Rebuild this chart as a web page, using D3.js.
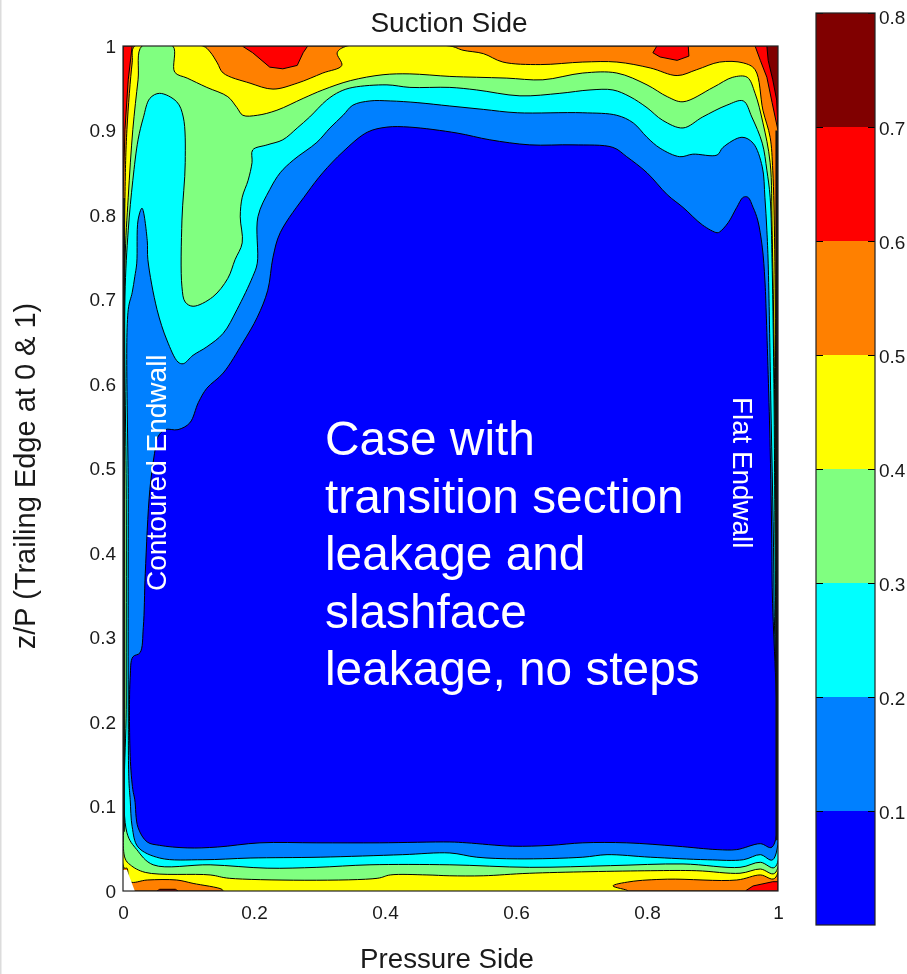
<!doctype html>
<html lang="en">
  <head>
    <meta charset="utf-8">
    <title>Suction Side contour</title>
    <script src="https://d3js.org/d3.v7.min.js"></script>
    <style>
    html, body { margin: 0; padding: 0; background: #fff; }
    svg { display: block; filter: blur(0.45px); }
    text { font-family: "Liberation Sans", Arial, sans-serif; fill: #1a1a1a; }
    .overlay { fill: #fff; }
    .tick line { stroke: #000; }
    .domain { stroke: none; }
    </style>
  </head>

  <body>
    <div id="chart">
      <svg width="907" height="974"></svg>
    </div>

    <script>
      // contour levels and the colour of the band below each one
      var levels = [0.1, 0.2, 0.3, 0.4, 0.5, 0.6, 0.7];
      var bandColors = ['#0000ff', '#0080ff', '#00ffff', '#80ff80', '#ffff00', '#ff8000', '#ff0000', '#800000'];

      var xTicks = [0, 0.2, 0.4, 0.6, 0.8, 1];
      var yTicks = [0, 0.1, 0.2, 0.3, 0.4, 0.5, 0.6, 0.7, 0.8, 0.9, 1];
      var barTicks = [0.1, 0.2, 0.3, 0.4, 0.5, 0.6, 0.7, 0.8];

      var noteLines = ['Case with', 'transition section', 'leakage and', 'slashface', 'leakage, no steps'];

      // outlines of the region under each level, in x/P, z/P
      var below01 = [[.018,.108],[.023,.075],[.037,.058],[.056,.054],[.098,.051],[.144,.052],[.209,.057],[.296,.057],[.392,.057],[.499,.058],[.525,.057],[.595,.053],[.652,.054],[.702,.057],[.769,.057],[.846,.053],[.907,.049],[.937,.049],[.973,.056],[.991,.052],[.991,.368],[.988,.525],[.982,.684],[.980,.723],[.976,.762],[.969,.794],[.962,.809],[.954,.821],[.947,.821],[.937,.809],[.924,.791],[.911,.780],[.907,.779],[.885,.788],[.855,.809],[.831,.824],[.800,.850],[.769,.869],[.748,.880],[.687,.883],[.621,.883],[.560,.889],[.510,.897],[.438,.904],[.403,.904],[.373,.898],[.336,.875],[.305,.850],[.281,.826],[.240,.779],[.229,.750],[.221,.711],[.205,.679],[.183,.649],[.153,.613],[.128,.595],[.115,.578],[.102,.554],[.084,.546],[.064,.546],[.053,.537],[.049,.522],[.041,.475],[.034,.376],[.031,.312],[.026,.282],[.015,.277],[.011,.253],[.011,.159],[.015,.120]];
      var below02 = [[.011,.108],[.014,.076],[.023,.052],[.056,.039],[.122,.037],[.194,.039],[.301,.040],[.427,.043],[.499,.045],[.540,.040],[.602,.038],[.702,.040],[.739,.043],[.805,.040],[.892,.037],[.947,.037],[.973,.043],[.992,.037],[.994,.344],[.989,.581],[.985,.743],[.983,.782],[.980,.821],[.976,.857],[.962,.885],[.945,.892],[.916,.880],[.907,.871],[.870,.872],[.850,.869],[.820,.879],[.800,.892],[.779,.909],[.754,.918],[.702,.921],[.602,.921],[.550,.925],[.499,.929],[.449,.933],[.408,.935],[.377,.935],[.351,.930],[.336,.918],[.316,.903],[.296,.886],[.260,.865],[.240,.850],[.224,.830],[.206,.798],[.205,.743],[.198,.727],[.174,.688],[.153,.660],[.128,.644],[.107,.634],[.092,.624],[.084,.626],[.067,.652],[.052,.688],[.038,.747],[.037,.770],[.029,.808],[.023,.794],[.021,.743],[.018,.727],[.014,.708],[.008,.688],[.008,.463],[.008,.226],[.009,.131]];
      var below03 = [[.006,.069],[.021,.049],[.046,.031],[.133,.031],[.220,.027],[.296,.028],[.377,.031],[.499,.031],[.621,.028],[.744,.030],[.855,.032],[.942,.028],[.973,.034],[.995,.028],[.997,.226],[.995,.463],[.994,.581],[.991,.743],[.988,.821],[.983,.853],[.976,.885],[.960,.916],[.947,.935],[.922,.930],[.885,.916],[.855,.903],[.824,.912],[.800,.927],[.774,.940],[.748,.948],[.713,.948],[.667,.944],[.606,.941],[.540,.948],[.499,.951],[.438,.951],[.403,.954],[.351,.951],[.331,.946],[.311,.936],[.285,.916],[.266,.903],[.244,.889],[.220,.883],[.198,.877],[.197,.862],[.191,.841],[.182,.821],[.179,.798],[.182,.767],[.171,.747],[.160,.725],[.137,.703],[.107,.692],[.095,.697],[.090,.715],[.090,.794],[.095,.862],[.092,.916],[.082,.934],[.056,.944],[.041,.938],[.031,.915],[.023,.889],[.015,.841],[.008,.782],[.003,.703],[.005,.463],[.005,.226]];
      var below04 = [[.003,.039],[.011,.031],[.034,.022],[.133,.019],[.163,.015],[.388,.015],[.408,.019],[.464,.019],[.499,.018],[.550,.018],[.621,.021],[.805,.024],[.876,.024],[.942,.021],[.973,.026],[.995,.021],[.998,.226],[.997,.404],[.995,.581],[.991,.782],[.988,.862],[.977,.909],[.965,.944],[.953,.963],[.931,.963],[.901,.951],[.855,.934],[.831,.940],[.800,.954],[.754,.968],[.702,.968],[.641,.960],[.586,.962],[.540,.963],[.499,.964],[.438,.967],[.397,.966],[.347,.959],[.305,.948],[.275,.938],[.235,.924],[.205,.918],[.183,.918],[.174,.927],[.160,.940],[.128,.951],[.098,.962],[.079,.969],[.076,1],[.029,1],[.023,.960],[.015,.901],[.008,.821],[.003,.743],[.002,.463],[.002,.108]];
      var below05 = [[.002,.027],[.006,.027],[.011,.011],[.037,.013],[.082,.013],[.107,.009],[.151,.002],[.153,0],[.771,0],[.748,.006],[.774,.011],[.831,.014],[.937,.013],[.973,.019],[.995,.015],[.999,.226],[.997,.463],[.995,.759],[.992,.853],[.988,.892],[.977,.924],[.965,.972],[.947,.980],[.911,.981],[.876,.972],[.846,.965],[.805,.974],[.754,.981],[.702,.981],[.637,.978],[.580,.981],[.550,.991],[.519,.995],[.499,1],[.342,1],[.327,.992],[.334,.977],[.305,.968],[.266,.956],[.229,.949],[.194,.956],[.153,.968],[.144,.980],[.133,.993],[.122,1],[.018,1],[.014,.980],[.006,.901],[.003,.821],[.002,.463]];
      var below06 = [[0,0],[.950,0],[.962,.006],[.992,.011],[1,.011],[1,.90],[.991,.933],[.983,.963],[.973,.983],[.965,1],[.863,1],[.864,.988],[.846,.983],[.820,.987],[.809,.992],[.815,1],[.282,1],[.275,.992],[.266,.977],[.244,.973],[.224,.975],[.198,.992],[.182,1],[.014,1],[.008,.960],[.003,.901],[0,.821]];
      var below07 = [[0,0],[1,0],[1,.90],[.998,.936],[.992,.960],[.985,.983],[.983,1],[0,1]];
      // small patch above 0.6 on the lower edge and the blank corner
      var patch06 = [[.052,0],[.056,.002],[.080,.002],[.084,0]];
      var blankCorner = [[0,.025],[.006,.025],[.018,0],[0,0]];
      // where the contour lines pile up into a dark wall at x/P 0 and 1
      var leftWall = [[.001,.07],[.001,.82]];
      var rightWall = [[.998,.06],[.998,.90]];

      var svg = d3.select('svg');

      var xScale = d3.scaleLinear().domain([0, 1]).range([123, 778]);
      var yScale = d3.scaleLinear().domain([0, 1]).range([891, 46]);
      var barScale = d3.scaleLinear().domain([0, 0.8]).range([925, 13]);

      var outline = d3.line()
        .curve(d3.curveCatmullRomClosed.alpha(0.5))
        .x(function(d){ return xScale(d[0]); })
        .y(function(d){ return yScale(d[1]); });

      var straight = d3.line()
        .x(function(d){ return xScale(d[0]); })
        .y(function(d){ return yScale(d[1]); });

      // faint edge of the pasted picture
      svg.append('rect')
        .attr('x', 0).attr('y', 0)
        .attr('width', 1.5).attr('height', 974)
        .attr('fill', '#dcdcdc');

      svg.append('clipPath').attr('id', 'plotClip')
        .append('rect')
        .attr('x', xScale(0))
        .attr('y', yScale(1))
        .attr('width', xScale(1) - xScale(0))
        .attr('height', yScale(0) - yScale(1));

      var plot = svg.append('g').attr('clip-path', 'url(#plotClip)');

      // highest band first, each lower region painted over it
      plot.append('rect')
        .attr('x', xScale(0))
        .attr('y', yScale(1))
        .attr('width', xScale(1) - xScale(0))
        .attr('height', yScale(0) - yScale(1))
        .attr('fill', bandColors[7]);

      var layers = [below07, below06, below05, below04, below03, below02, below01];

      layers.forEach(function(points, i){
        plot.append('path')
          .attr('d', i < 2 ? straight(points) + 'Z' : outline(points))
          .attr('fill', bandColors[6 - i])
          .attr('stroke', '#000')
          .attr('stroke-width', 1);
      });

      plot.append('path')
        .attr('d', straight(patch06) + 'Z')
        .attr('fill', bandColors[6])
        .attr('stroke', '#000');

      plot.append('path')
        .attr('d', straight(blankCorner) + 'Z')
        .attr('fill', '#fff');

      [leftWall, rightWall].forEach(function(points){
        plot.append('path')
          .attr('d', straight(points))
          .attr('fill', 'none')
          .attr('stroke', '#111')
          .attr('stroke-width', 2.5);
      });

      // axes: the filled contours hide the inner ticks, only labels show
      var horAxis = d3.axisBottom(xScale)
        .tickValues(xTicks)
        .tickFormat(d3.format('~g'))
        .tickSize(0)
        .tickPadding(15);

      svg.append('g')
        .attr('transform', 'translate(0, 891)')
        .call(horAxis)
        .selectAll('text')
        .style('font-size', '19px');

      var vertAxis = d3.axisLeft(yScale)
        .tickValues(yTicks)
        .tickFormat(d3.format('~g'))
        .tickSize(0)
        .tickPadding(7);

      svg.append('g')
        .attr('transform', 'translate(123, 0)')
        .call(vertAxis)
        .selectAll('text')
        .style('font-size', '19px');

      svg.append('rect')
        .attr('x', xScale(0))
        .attr('y', yScale(1))
        .attr('width', xScale(1) - xScale(0))
        .attr('height', yScale(0) - yScale(1))
        .attr('fill', 'none')
        .attr('stroke', '#222')
        .attr('stroke-width', 1.2);

      // colour bar
      var barEdges = [0].concat(levels, [0.8]);

      svg.selectAll('.band').data(bandColors)
        .enter()
          .append('rect')
          .attr('class', 'band')
          .attr('x', 816)
          .attr('width', 59)
          .attr('y', function(d, i){ return barScale(barEdges[i + 1]); })
          .attr('height', function(d, i){ return barScale(barEdges[i]) - barScale(barEdges[i + 1]); })
          .attr('fill', function(d){ return d; });

      var barAxis = d3.axisRight(barScale)
        .tickValues(barTicks)
        .tickFormat(d3.format('~g'))
        .tickSize(-7)
        .tickPadding(4);

      svg.append('g')
        .attr('transform', 'translate(875, 0)')
        .call(barAxis)
        .selectAll('text')
        .style('font-size', '19px')
        .attr('dy', function(d){ return d === 0.8 ? '0.55em' : '0.37em'; });

      svg.append('g')
        .attr('transform', 'translate(816, 0)')
        .call(d3.axisLeft(barScale).tickValues(barTicks).tickFormat('').tickSize(-7));

      svg.append('rect')
        .attr('x', 816)
        .attr('y', 13)
        .attr('width', 59)
        .attr('height', 912)
        .attr('fill', 'none')
        .attr('stroke', '#222')
        .attr('stroke-width', 1.2);

      // titles
      svg.append('text')
        .attr('x', 449).attr('y', 32)
        .attr('text-anchor', 'middle')
        .style('font-size', '28px')
        .text('Suction Side');

      svg.append('text')
        .attr('x', 447).attr('y', 967.5)
        .attr('text-anchor', 'middle')
        .style('font-size', '27.7px')
        .text('Pressure Side');

      svg.append('text')
        .attr('transform', 'translate(35, 476) rotate(-90)')
        .attr('text-anchor', 'middle')
        .style('font-size', '29px')
        .text('z/P (Trailing Edge at 0 & 1)');

      // notes on the plot
      svg.selectAll('.note').data(noteLines)
        .enter()
          .append('text')
          .attr('class', 'overlay note')
          .attr('x', 325)
          .attr('y', function(d, i){ return 455 + i * 57.6; })
          .style('font-size', '47.8px')
          .text(function(d){ return d; });

      svg.append('text')
        .attr('class', 'overlay')
        .attr('transform', 'translate(166, 591) rotate(-90)')
        .style('font-size', '28px')
        .text('Contoured Endwall');

      svg.append('text')
        .attr('class', 'overlay')
        .attr('transform', 'translate(733, 397) rotate(90)')
        .style('font-size', '27.8px')
        .text('Flat Endwall');
    </script>
  </body>
</html>
